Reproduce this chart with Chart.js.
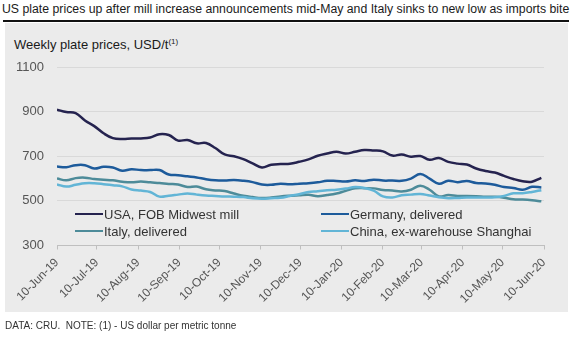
<!DOCTYPE html>
<html>
<head>
<meta charset="utf-8">
<script src="https://cdn.jsdelivr.net/npm/chart.js@4/dist/chart.umd.min.js"></script>
<style>
  body { margin: 0; width: 574px; height: 340px; background: #fff; position: relative; overflow: hidden;
         font-family: "Liberation Sans", Arial, sans-serif; }
  #title { position: absolute; left: 2px; top: 2px; font-size: 12.5px; color: #1a1a1a; white-space: nowrap;
           transform-origin: 0 0; }
  #rule { position: absolute; left: 3px; top: 20px; width: 566px; height: 1.5px; background: #111; }
  #panel { position: absolute; left: 5px; top: 23px; width: 563px; height: 289px; background: #ebebeb; }
  #sub { position: absolute; left: 14px; top: 37px; font-size: 13px; color: #1a1a1a; white-space: nowrap; }
  #sub sup { font-size: 8px; vertical-align: 5px; }
  #chart { position: absolute; left: 0; top: 0; }
  .leg { position: absolute; font-size: 13px; color: #333; white-space: nowrap; line-height: 15px; }
  .leg i { display: inline-block; width: 28px; height: 2.5px; vertical-align: 4px; margin-right: 1px; }
  #foot { position: absolute; left: 5px; top: 320px; font-size: 10px; color: #333; white-space: nowrap; }
</style>
</head>
<body>
<div id="title">US plate prices up after mill increase announcements mid-May and Italy sinks to new low as imports bite</div>
<div id="rule"></div>
<div id="panel"></div>
<div id="sub">Weekly plate prices, USD/t<sup>(1)</sup></div>
<canvas id="chart" width="574" height="340"></canvas>
<div id="legend"></div>
<div id="foot">DATA: CRU.&nbsp; NOTE: (1) - US dollar per metric tonne</div>
<script>
// weekly observation dates
const weeks = [
  '2019-06-10','2019-06-17','2019-06-24','2019-07-01','2019-07-08','2019-07-15','2019-07-22','2019-07-29',
  '2019-08-05','2019-08-12','2019-08-19','2019-08-26','2019-09-02','2019-09-09','2019-09-16','2019-09-23',
  '2019-09-30','2019-10-07','2019-10-14','2019-10-21','2019-10-28','2019-11-04','2019-11-11','2019-11-18',
  '2019-11-25','2019-12-02','2019-12-09','2019-12-16','2019-12-23','2019-12-30','2020-01-06','2020-01-13',
  '2020-01-20','2020-01-27','2020-02-03','2020-02-10','2020-02-17','2020-02-24','2020-03-02','2020-03-09',
  '2020-03-16','2020-03-23','2020-03-30','2020-04-06','2020-04-13','2020-04-20','2020-04-27','2020-05-04',
  '2020-05-11','2020-05-18','2020-05-25','2020-06-01','2020-06-08'
];

const usa = [909, 898, 893, 860, 835, 803, 781, 777, 779, 780, 784, 799, 795, 770, 773, 758, 759, 737, 708, 700,
  687, 668, 650, 662, 665, 666, 675, 686, 702, 712, 720, 712, 720, 728, 726, 722, 703, 708, 698, 701,
  684, 692, 675, 667, 663, 645, 634, 627, 612, 598, 588, 586, 603];
const germany = [654, 651, 660, 660, 645, 653, 650, 635, 642, 638, 638, 638, 618, 615, 610, 605, 597, 592, 591, 593,
  590, 584, 573, 572, 577, 574, 577, 579, 583, 590, 589, 587, 592, 589, 595, 591, 591, 590, 600, 620,
  600, 577, 590, 584, 589, 580, 578, 572, 562, 558, 550, 563, 560];
const italy = [600, 592, 602, 604, 598, 595, 592, 586, 583, 587, 583, 580, 576, 573, 562, 564, 552, 547, 544, 533,
  523, 517, 513, 515, 520, 523, 525, 527, 521, 526, 533, 545, 556, 557, 556, 549, 546, 542, 550, 568,
  550, 520, 526, 522, 522, 521, 519, 518, 514, 507, 506, 503, 498];
const china = [574, 564, 572, 579, 579, 575, 570, 565, 551, 546, 540, 519, 523, 528, 533, 528, 524, 522, 520, 519,
  517, 512, 510, 512, 514, 522, 530, 540, 543, 548, 550, 555, 562, 558, 546, 520, 515, 525, 528, 531,
  524, 516, 512, 513, 515, 515, 515, 516, 522, 534, 534, 540, 548];

const seriesNames = ['USA, FOB Midwest mill', 'Germany, delivered', 'Italy, delivered', 'China, ex-warehouse Shanghai'];
const seriesColors = ['#25234f', '#1d5b9b', '#4d8b99', '#62b5d6'];

// monthly axis ticks
const tickDates = ['2019-06-10','2019-07-10','2019-08-10','2019-09-10','2019-10-10','2019-11-10','2019-12-10',
  '2020-01-10','2020-02-10','2020-03-10','2020-04-10','2020-05-10','2020-06-10'];
const tickLabels = ['10-Jun-19','10-Jul-19','10-Aug-19','10-Sep-19','10-Oct-19','10-Nov-19','10-Dec-19',
  '10-Jan-20','10-Feb-20','10-Mar-20','10-Apr-20','10-May-20','10-Jun-20'];
const yTicks = [300, 500, 700, 900, 1100];

// squeeze the title onto one line like the original
const title = document.getElementById('title');
title.style.transform = 'scaleX(' + Math.min(1, 567 / title.scrollWidth) + ')';

const day0 = Date.parse(weeks[0] + 'T00:00:00Z');
const toDay = s => (Date.parse(s + 'T00:00:00Z') - day0) / 86400000;
const weekX = weeks.map(toDay);
const tickX = tickDates.map(toDay);

const allSeries = [usa, germany, italy, china];
const datasets = allSeries.map((vals, i) => ({
  label: seriesNames[i],
  data: vals.map((v, j) => ({ x: weekX[j], y: v })),
  borderColor: seriesColors[i],
  borderWidth: 2.5,
  pointRadius: 0,
  tension: 0.4,
  fill: false,
  order: 4 - i
}));

const fontFam = '"Liberation Sans", Arial, sans-serif';

new Chart(document.getElementById('chart'), {
  type: 'line',
  data: { datasets },
  options: {
    responsive: false,
    animation: false,
    layout: { padding: { top: 67, right: 30, left: 0, bottom: 0 } },
    plugins: { legend: { display: false }, tooltip: { enabled: false } },
    scales: {
      x: {
        type: 'linear',
        min: tickX[0],
        max: tickX[tickX.length - 1],
        afterBuildTicks: s => { s.ticks = tickX.map(v => ({ value: v })); },
        afterFit: s => { s.height = 94.5; },
        ticks: {
          autoSkip: false,
          minRotation: 45,
          maxRotation: 45,
          padding: 6,
          color: '#555',
          font: { family: fontFam, size: 12 },
          callback: (v, i) => tickLabels[i]
        },
        grid: { drawOnChartArea: false, drawTicks: true, tickLength: 4, color: '#bfbfbf' },
        border: { display: true, color: '#bfbfbf', width: 1 }
      },
      y: {
        min: yTicks[0],
        max: yTicks[yTicks.length - 1],
        afterBuildTicks: s => { s.ticks = yTicks.map(v => ({ value: v })); },
        afterFit: s => { s.width = 57; },
        ticks: {
          padding: 13,
          color: '#555',
          font: { family: fontFam, size: 13 },
          callback: v => String(v)
        },
        grid: { color: c => c.tick.value === 300 ? 'rgba(0,0,0,0)' : '#d9d9d9', drawTicks: false },
        border: { display: false }
      }
    }
  }
});

// legend inside the plot area, two columns
const legPos = [[75, 207], [321, 207], [75, 224], [321, 224]];
const legend = document.getElementById('legend');
seriesNames.forEach((name, i) => {
  const d = document.createElement('div');
  d.className = 'leg';
  d.style.left = legPos[i][0] + 'px';
  d.style.top = legPos[i][1] + 'px';
  d.innerHTML = '<i style="background:' + seriesColors[i] + '"></i>' + name;
  legend.appendChild(d);
});
</script>
</body>
</html>
